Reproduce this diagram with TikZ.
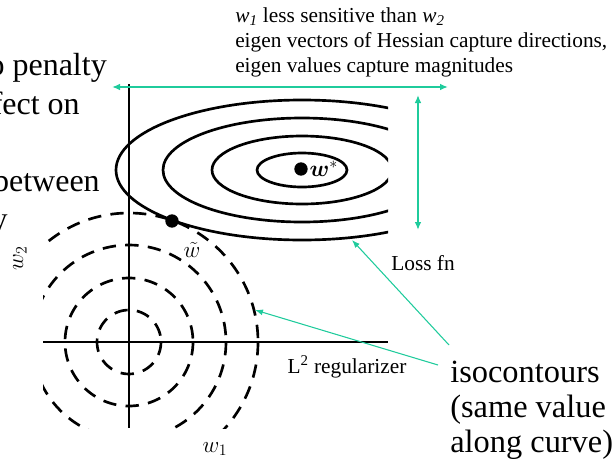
\documentclass[tikz,border=0pt]{standalone}
\usepackage{amsmath,amssymb}
\usepackage[no-math]{fontspec}
\setmainfont{Liberation Serif}
\usepackage{tikz}
\usetikzlibrary{arrows.meta,positioning}
\definecolor{mint}{HTML}{1FCB9C}
\tikzset{
  isoline/.style={draw=black, line width=2pt},
  regring/.style={draw=black, line width=2pt, dash pattern=on 10pt off 7pt},
  axisline/.style={draw=black, line width=2.2pt},
  dot/.style={circle, fill=black, inner sep=0pt, minimum size=10pt},
  spanarrow/.style={{Latex[length=6pt,width=5pt]}-{Latex[length=6pt,width=5pt]},
                    draw=mint, line width=1.2pt},
  pointer/.style={-{Latex[length=6pt,width=4.5pt]}, draw=mint, line width=0.8pt},
  mathlab/.style={inner sep=1pt, font=\fontsize{17}{20}\selectfont},
  note/.style={inner sep=0pt, align=left, font=\rmfamily\fontsize{16}{18.75}\selectfont},
  slidetext/.style={inner sep=0pt, font=\rmfamily\fontsize{24}{29}\selectfont},
  bigtext/.style={inner sep=0pt, align=left, font=\rmfamily\fontsize{24.3}{25.9}\selectfont}
}

\begin{document}
\begin{tikzpicture}[x=0.75pt,y=-0.75pt,>=Latex]
        \useasboundingbox (0,0) rectangle (613,468);
        % slide text cut off at the left edge
        \foreach \txt/\xr/\yb in {o penalty/107/75,fect on/80/114,between/100/191,y/8/229}
          \node[slidetext,anchor=base east] (frag\yb) at (\xr,\yb) {\txt};
        % centres
        \coordinate (origin) at (129,342);
        \coordinate (wmin) at (302,170);
        % L2 rings round the origin
        \begin{scope}
          \clip (43,0) rectangle (613,428);
          \foreach \r in {32,64,97,129}
            \draw[regring] (origin) circle [radius=\r];
        \end{scope}
        % loss ellipses, cut at the right
        \begin{scope}
          \clip (0,0) rectangle (388,468);
          \foreach \rx/\ry in {45/17,90/34,139/52,186/70}
            \draw[isoline] (wmin) ellipse [x radius=\rx, y radius=\ry];
        \end{scope}
        % axes
        \draw[axisline] (43,342) -- (388,342);
        \draw[axisline] (129,84) -- (129,428);
        \node[mathlab] (w1lab) at (215,449) {$w_1$};
        \node[mathlab,rotate=90] (w2lab) at (20,258) {$w_2$};
        % optima
        \node[dot] (wstar) at (301,169) {};
        \node[mathlab,right=0pt of wstar] (wstarlab) {$\boldsymbol{w}^*$};
        \node[dot] (wtil) at (172,221) {};
        \node[mathlab] (wtillab) at (192,250) {$\tilde{w}$};
        % spread along each weight
        \coordinate (spanL) at (112,87);
        \coordinate (spanR) at (448,87);
        \coordinate (spanT) at (418,95);
        \coordinate (spanB) at (418,230);
        \draw[spanarrow] (spanL) -- (spanR);
        \draw[spanarrow] (spanT) -- (spanB);
        % last line sits on the base anchor
        \node[note,anchor=base west] (hess) at (235,72)
          {\textit{w}\textsubscript{\textit{1}} less sensitive than \textit{w}\textsubscript{\textit{2}}\\
           eigen vectors of Hessian capture directions,\\
           eigen values capture magnitudes};
        % labels and pointers
        \node[note] (losslab) at (423,263) {Loss fn};
        \node[note] (reglab) at (347,367) {L\textsuperscript{2} regularizer};
        \node[bigtext,anchor=base west] (iso) at (450,452) {isocontours\\(same value\\along curve)};
        \coordinate (isoA) at (449,345);
        \coordinate (isoB) at (438,365);
        \coordinate (lossTip) at (352,240);
        \coordinate (regTip) at (255,310);
        \draw[pointer] (isoA) -- (lossTip);
        \draw[pointer] (isoB) -- (regTip);
      \end{tikzpicture}
\end{document}
